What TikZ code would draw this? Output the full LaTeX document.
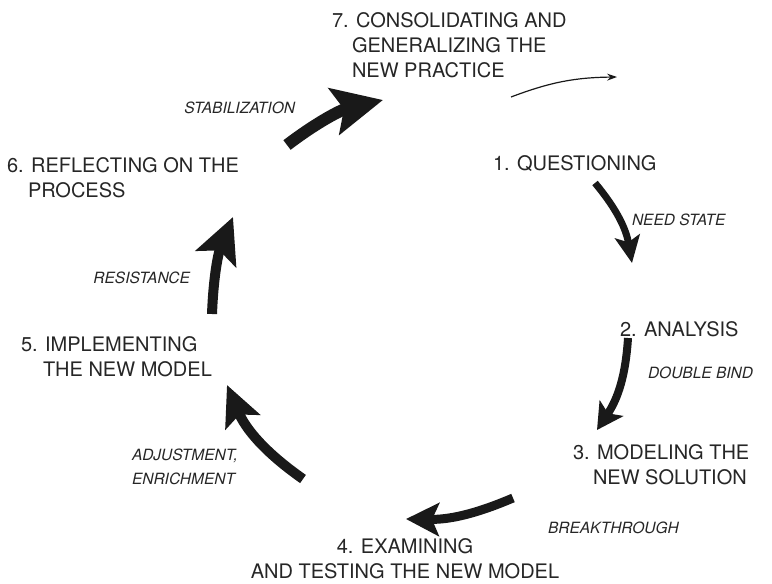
\documentclass[tikz,border=0pt]{standalone}
\usepackage{fontspec}
\setmainfont{TeX Gyre Heros}
\usetikzlibrary{arrows.meta}

\begin{document}
\begin{tikzpicture}[x=1pt,y=1pt,
  every node/.style={inner sep=0pt,outer sep=0pt},
  stage/.style={font=\fontsize{20}{25}\selectfont,text=black!85,anchor=base west,align=left},
  contradiction/.style={font=\fontsize{15.5}{24}\selectfont\itshape,text=black!85,align=left},
  cyclearrow/.style={line width=#1,black!90},
  thinarrow/.style={line width=1.2pt,black!90,-{Stealth[length=10pt,width=7pt,inset=3.5pt]}}]
\useasboundingbox (0,0) rectangle (772,-584);

% stages of the cycle
\node[stage] (s7) at (332,-77.5) {7. CONSOLIDATING AND\\\hspace*{20pt}GENERALIZING THE\\\hspace*{20pt}NEW PRACTICE};
\node[stage] (s1) at (493,-170) {1. QUESTIONING};
\node[stage] (s2) at (620,-336) {2. ANALYSIS};
\node[stage] (s3) at (573,-484) {3. MODELING THE\\\hspace*{20pt}NEW SOLUTION};
\node[stage,anchor=base,align=center] (s4) at (405,-578) {4. EXAMINING\\AND TESTING THE NEW MODEL};
\node[stage] (s5) at (21,-376) {5. IMPLEMENTING\\\hspace*{22pt}THE NEW MODEL};
\node[stage] (s6) at (7,-197) {6. REFLECTING ON THE\\\hspace*{21pt}PROCESS};

% contradictions between the stages
\node[contradiction,anchor=base west] (t1) at (632,-225) {NEED STATE};
\node[contradiction,anchor=base west] (t2) at (648,-378) {DOUBLE BIND};
\node[contradiction,anchor=base west] (t3) at (548,-533) {BREAKTHROUGH};
\node[contradiction,anchor=base west] (t4) at (132,-484) {ADJUSTMENT,\\ENRICHMENT};
\node[contradiction,anchor=base east] (t5) at (190,-283) {RESISTANCE};
\node[contradiction,anchor=base east] (t6) at (295,-113) {STABILIZATION};

% arrow ends
\coordinate (a1) at (595,-183);  \coordinate (b1) at (632,-263);
\coordinate (a2) at (628,-338);  \coordinate (b2) at (597,-430);
\coordinate (a3) at (513,-498);  \coordinate (b3) at (406,-519);
\coordinate (a4) at (303,-479);  \coordinate (b4) at (227,-385);
\coordinate (a5) at (212,-314);  \coordinate (b5) at (233,-217);
\coordinate (a6) at (287,-145);  \coordinate (b6) at (383,-100);
\coordinate (a7) at (511,-97);   \coordinate (b7) at (617,-77);

\draw[cyclearrow=7pt,-{Stealth[length=27pt,width=25pt,inset=6pt]}] (a1) to[bend left=15] (b1);
\draw[cyclearrow=8pt,-{Stealth[length=26pt,width=28pt,inset=6pt]}] (a2) to[bend left=15] (b2);
\draw[cyclearrow=9pt,-{Stealth[length=33pt,width=33pt,inset=7pt]}] (a3) to[bend left=12] (b3);
\draw[cyclearrow=10pt,-{Stealth[length=40pt,width=37pt,inset=8pt]}] (a4) to[bend left=16] (b4);
\draw[cyclearrow=10pt,-{Stealth[length=45pt,width=43pt,inset=9pt]}] (a5) to[bend left=10] (b5);
\draw[cyclearrow=12pt,-{Stealth[length=50pt,width=47pt,inset=10pt]}] (a6) to[bend left=12] (b6);
\draw[thinarrow] (a7) to[bend left=10] (b7);
\end{tikzpicture}
\end{document}
